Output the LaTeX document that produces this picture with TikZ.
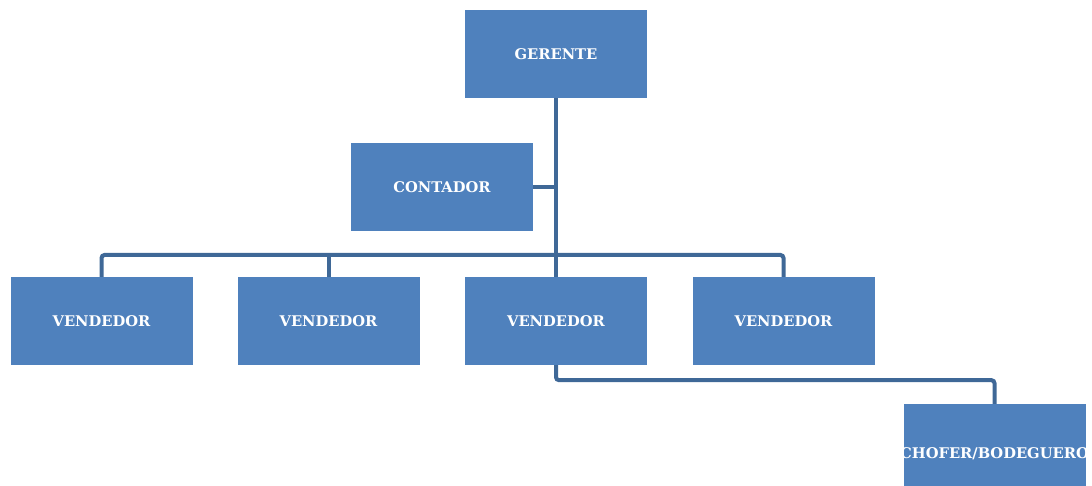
\documentclass[tikz,border=0pt]{standalone}
\usepackage{fontspec}
\newfontfamily\boxfont{DejaVu Serif}
\definecolor{boxblue}{HTML}{4F81BD}
\definecolor{lineblue}{HTML}{3F6897}
\begin{document}
\begin{tikzpicture}[x=1pt,y=-1pt,
  box/.style={fill=boxblue, draw=none, minimum width=182pt, minimum height=88pt, inner sep=0pt,
    text=white, font=\boxfont\bfseries\fontsize{14.7}{17}\selectfont},
  conn/.style={draw=lineblue, line width=4pt, rounded corners=3pt}]
\useasboundingbox (0,0) rectangle (1092,486);
\node[box] (ger) at (556,54) {GERENTE};
\node[box] (con) at (442,187) {CONTADOR};
\node[box] (v1) at (101.5,321) {VENDEDOR};
\node[box] (v2) at (328.5,321) {VENDEDOR};
\node[box] (v3) at (556,321) {VENDEDOR};
\node[box] (v4) at (783.5,321) {VENDEDOR};
\node[box] (cho) at (994.5,448) {};
\begin{scope}
\clip (cho.south west) rectangle (cho.north east);
\node[box, fill=none] (chot) at (cho.center) [yshift=-6pt] {CHOFER/BODEGUERO};
\end{scope}
\coordinate (bar) at (556,255);
\draw[conn] (ger.south) -- (v3.north);
\draw[conn] (con.east) -- (ger.south |- con.east);
\draw[conn] (v1.north) -- (v1.north |- bar) -| (v4.north);
\draw[conn] (v2.north) -- (v2.north |- bar);
\draw[conn] (v3.south) -- ++(0,15) -| (cho.north);
\end{tikzpicture}
\end{document}
